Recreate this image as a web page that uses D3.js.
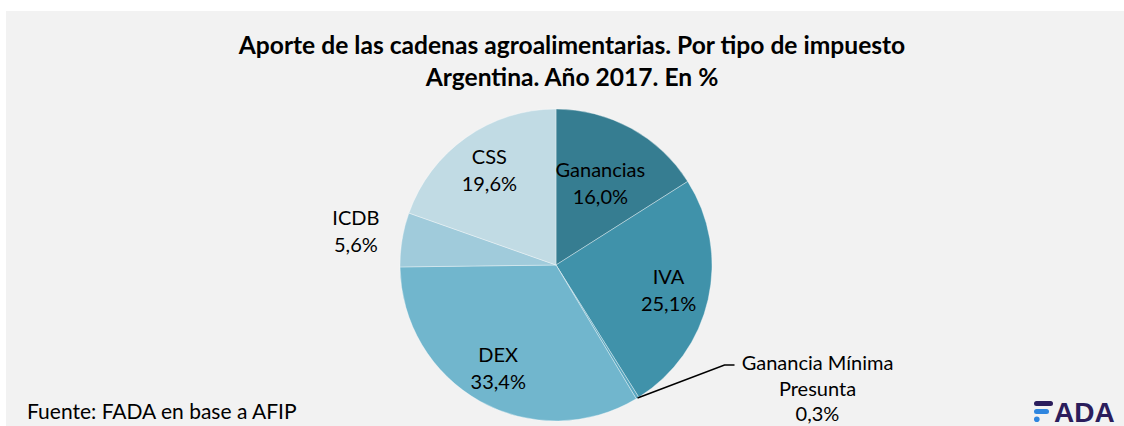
<!DOCTYPE html>
<html>
<head>
<meta charset="utf-8">
<script src="https://cdn.jsdelivr.net/npm/d3@7"></script>
<style>
  body { margin: 0; background: #ffffff; }
  svg { display: block; }
</style>
</head>
<body>
<svg id="chart" width="1124" height="426"></svg>
<script>
// data
const categories = ['Ganancias', 'IVA', 'Ganancia Mínima Presunta', 'DEX', 'ICDB', 'CSS'];
const shares = [16.0, 25.1, 0.3, 33.4, 5.6, 19.6];
const sliceColors = ['#367d91', '#4092aa', '#58a6bf', '#71b6cd', '#a0cbdb', '#c1dbe4'];
const titleLines = ['Aporte de las cadenas agroalimentarias. Por tipo de impuesto',
                    'Argentina. Año 2017. En %'];
const sourceText = 'Fuente: FADA en base a AFIP';

const svg = d3.select('#chart');
const font = 'Lato, "Open Sans", sans-serif';

// background panel
svg.append('rect')
   .attr('x', 6)
   .attr('y', 11)
   .attr('width', 1124 - 6)
   .attr('height', 426 - 11)
   .attr('fill', '#f2f2f2');

// title
svg.selectAll('.title')
   .data(titleLines)
   .enter()
   .append('text')
   .attr('class', 'title')
   .attr('x', 572)
   .attr('y', function(d, i){ return 54 + i*32; })
   .attr('text-anchor', 'middle')
   .attr('font-family', font)
   .attr('font-weight', 'bold')
   .attr('font-size', '24.6px')
   .attr('fill', '#000')
   .text(function(d){ return d; });

// pie
const center = {x: 556, y: 265};
const radius = 156;

const pie = d3.pie()
              .sort(null)
              .value(function(d){ return d; });
const arcs = pie(shares);

const arc = d3.arc()
              .innerRadius(0)
              .outerRadius(radius);

const g = svg.append('g')
             .attr('transform', `translate(${center.x},${center.y})`);

g.selectAll('path')
 .data(arcs)
 .enter()
 .append('path')
 .attr('d', arc)
 .attr('fill', function(d, i){ return sliceColors[i]; })
 .attr('stroke', 'rgba(255,255,255,0.45)')
 .attr('stroke-width', 0.8);

// label layout: radius factor (relative to pie radius) per slice, outside labels get leader
const labelRadius = [0.59, 0.74, null, 0.76, 1.3, 0.74];
const labelSize = '20px';
const fmt = function(v){ return v.toFixed(1).replace('.', ',') + '%'; };

function polar(angle, r){
  return [r*Math.sin(angle), -r*Math.cos(angle)];
}

arcs.forEach(function(d, i){
  const mid = (d.startAngle + d.endAngle)/2;
  if(labelRadius[i] === null) return;
  const p = polar(mid, radius*labelRadius[i]);
  const t = g.append('text')
             .attr('text-anchor', 'middle')
             .attr('font-family', font)
             .attr('font-size', labelSize)
             .attr('fill', '#000');
  t.append('tspan').attr('x', p[0]).attr('y', p[1] - 7).text(categories[i]);
  t.append('tspan').attr('x', p[0]).attr('y', p[1] + 20).text(fmt(shares[i]));
});

// small slice with leader line
(function(){
  const i = 2;
  const d = arcs[i];
  const mid = (d.startAngle + d.endAngle)/2;
  const p0 = polar(mid, radius);
  const p1 = [p0[0] + 87, p0[1] - 33];
  const p2 = [p1[0] + 10, p1[1]];
  g.append('polyline')
   .attr('points', [p0, p1, p2].map(function(p){ return p.join(','); }).join(' '))
   .attr('fill', 'none')
   .attr('stroke', '#000')
   .attr('stroke-width', 1.5);
  const lx = p2[0] + 83;
  const words = ['Ganancia Mínima', 'Presunta', fmt(shares[i])];
  const t = g.append('text')
             .attr('text-anchor', 'middle')
             .attr('font-family', font)
             .attr('font-size', labelSize)
             .attr('fill', '#000');
  words.forEach(function(w, k){
    t.append('tspan').attr('x', lx).attr('y', p1[1] + 5 + k*25.5).text(w);
  });
})();

// source
svg.append('text')
   .attr('x', 27)
   .attr('y', 419)
   .attr('font-family', font)
   .attr('font-size', '21px')
   .attr('fill', '#000')
   .text(sourceText);

// FADA logo
const logo = svg.append('g').attr('transform', 'translate(1034,401)');
logo.append('rect').attr('x', 0).attr('y', 0).attr('width', 19).attr('height', 5)
    .attr('rx', 2.5).attr('fill', '#2b1d5c');
logo.append('rect').attr('x', 0).attr('y', 8).attr('width', 15).attr('height', 5)
    .attr('rx', 2.5).attr('fill', '#2f86df');
logo.append('circle').attr('cx', 2.8).attr('cy', 18.2).attr('r', 2.8)
    .attr('fill', '#2f86df');
logo.append('text')
    .attr('x', 20)
    .attr('y', 21)
    .attr('font-family', '"Liberation Sans", Arial, sans-serif')
    .attr('font-weight', 'bold')
    .attr('font-size', '28px')
    .attr('fill', '#2b1d5c')
    .text('ADA');
</script>
</body>
</html>
